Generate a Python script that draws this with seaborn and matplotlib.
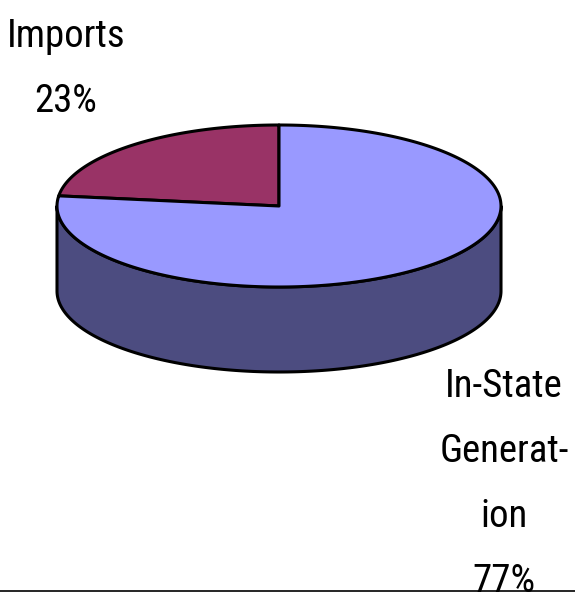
import numpy as np
import matplotlib
matplotlib.use("Agg")
import matplotlib.pyplot as plt
import seaborn as sns
from matplotlib.patches import Polygon

# -------------------------------
# Data
# -------------------------------
categories = ["Imports", "In-State Generation"]
shares = [23, 77]
label_lines = [["Imports", "23%"], ["In-State", "Generat-", "ion", "77%"]]

top_colors = ["#993366", "#9999FF"]
side_colors = ["#4C1A33", "#4C4C80"]

# -------------------------------
# Style
# -------------------------------
sns.set_theme(style="white")
plt.rcParams['font.family'] = ['Roboto Condensed', 'Liberation Sans', 'DejaVu Sans']

W, H = 575, 595
fig = plt.figure(figsize=(W / 100, H / 100), dpi=100)
ax = fig.add_axes([0, 0, 1, 1])
ax.set_xlim(0, W)
ax.set_ylim(H, 0)
ax.axis("off")

# pie geometry (pixels, y downwards)
cx, cy = 279, 206
a, b = 222, 81
depth = 85
edge_lw = 2.2


def pt(theta_deg, dy=0.0):
    t = np.radians(theta_deg)
    return cx + a * np.cos(t), cy - b * np.sin(t) + dy


# slice angles, starting at 12 o'clock, counterclockwise
fracs = np.array(shares, dtype=float) / sum(shares)
starts = 90 + 360 * np.concatenate([[0], np.cumsum(fracs)[:-1]])
ends = starts + 360 * fracs

# side walls (only the front half, 180..360 deg, is visible)
for s, e, col in zip(starts, ends, side_colors):
    for shift in (-360, 0, 360):
        lo = max(s + shift, 180)
        hi = min(e + shift, 360)
        if hi <= lo:
            continue
        th = np.linspace(lo, hi, 200)
        top = [pt(t) for t in th]
        bot = [pt(t, depth) for t in th[::-1]]
        ax.add_patch(Polygon(top + bot, closed=True, facecolor=col,
                             edgecolor="black", lw=edge_lw, joinstyle="round"))

# top faces
for s, e, col in zip(starts, ends, top_colors):
    th = np.linspace(s, e, 300)
    verts = [(cx, cy)] + [pt(t) for t in th]
    ax.add_patch(Polygon(verts, closed=True, facecolor=col,
                         edgecolor="black", lw=edge_lw, joinstyle="round"))

# labels
label_x = [66, 504]
label_y0 = [47, 397]
line_step = 65
for lines, x, y0 in zip(label_lines, label_x, label_y0):
    for i, txt in enumerate(lines):
        ax.text(x, y0 + i * line_step, txt, ha="center", va="baseline",
                fontsize=28, color="black")

# baseline rule at the bottom
ax.plot([0, W], [590.5, 590.5], color="black", lw=1.2)

fig.savefig("out.png", dpi=100)
